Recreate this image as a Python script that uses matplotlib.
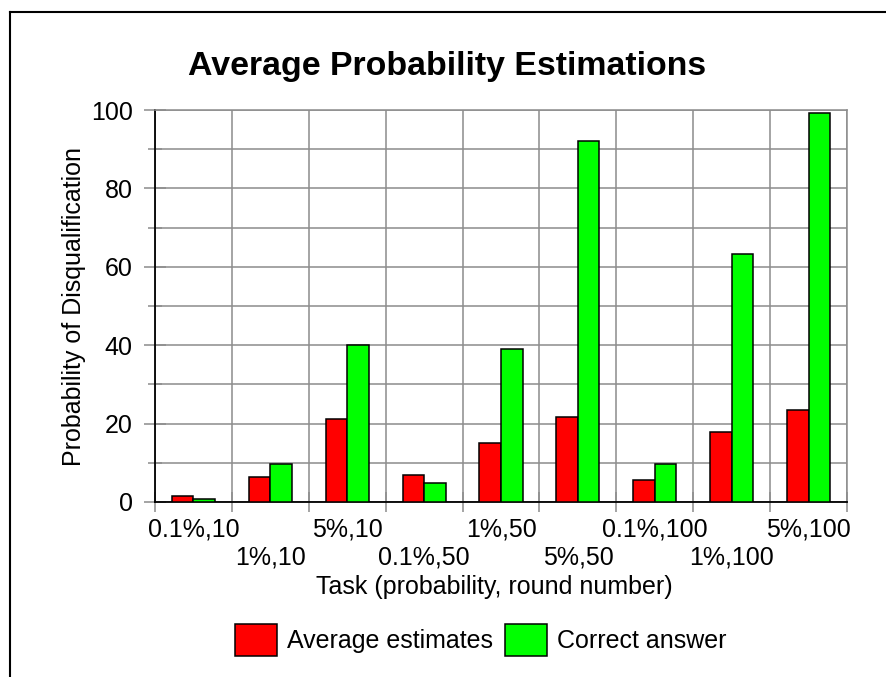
import matplotlib
matplotlib.use("Agg")
import matplotlib.pyplot as plt
import numpy as np
from matplotlib.lines import Line2D
from matplotlib.ticker import MultipleLocator, FixedLocator

plt.rcParams['font.family'] = ['Liberation Sans', 'DejaVu Sans']

tasks = ['0.1%,10', '1%,10', '5%,10', '0.1%,50', '1%,50', '5%,50',
         '0.1%,100', '1%,100', '5%,100']
average_estimates = [1.5, 6.5, 21.2, 6.8, 15.0, 21.6, 5.6, 17.9, 23.5]
correct_answer = [0.8, 9.8, 40.0, 4.9, 39.1, 92.2, 9.8, 63.2, 99.2]

fig = plt.figure(figsize=(8.87, 6.77), dpi=100)
ax = fig.add_axes([0.1747, 0.2585, 0.7803, 0.579])

x = np.arange(len(tasks))
w = 0.28
ax.bar(x - w / 2, average_estimates, w, color='#ff0000', edgecolor='black',
       linewidth=1.1, label='Average estimates', zorder=3)
ax.bar(x + w / 2, correct_answer, w, color='#00ff00', edgecolor='black',
       linewidth=1.1, label='Correct answer', zorder=3)

ax.set_xlim(-0.5, len(tasks) - 0.5)
ax.set_ylim(0, 100)

# y axis: labels every 20, grid every 10
ax.yaxis.set_major_locator(MultipleLocator(20))
ax.yaxis.set_minor_locator(MultipleLocator(10))
# x axis: labels at category centres (staggered), ticks/grid at boundaries
ax.set_xticks(x)
ax.set_xticklabels(tasks)
ax.xaxis.set_minor_locator(FixedLocator(np.arange(-0.5, len(tasks), 1.0)))

ax.grid(True, which='both', color='#8c8c8c', linewidth=1.1, zorder=0)
ax.grid(False, which='major', axis='x')
ax.set_axisbelow(True)

ax.tick_params(axis='x', which='major', length=0, labelsize=18, pad=11)
ax.tick_params(axis='x', which='minor', direction='inout', length=14, width=1.1,
               color='#8c8c8c')
ax.tick_params(axis='y', which='major', direction='inout', length=16, width=1.1,
               color='#8c8c8c', labelsize=18, pad=8)
ax.tick_params(axis='y', which='minor', direction='inout', length=10, width=1.1,
               color='#8c8c8c')
# second row of staggered labels
for tick in ax.xaxis.get_major_ticks()[1::2]:
    tick.set_pad(31)

for side in ['top', 'right']:
    ax.spines[side].set_color('#8c8c8c')
    ax.spines[side].set_linewidth(1.1)
for side in ['left', 'bottom']:
    ax.spines[side].set_color('black')
    ax.spines[side].set_linewidth(1.3)

ax.set_ylabel('Probability of Disqualification', fontsize=18)
ax.yaxis.set_label_coords(-0.1, 0.5)
ax.set_xlabel('Task (probability, round number)', fontsize=18)
ax.xaxis.set_label_coords(0.49, -0.185)

fig.suptitle('Average Probability Estimations', x=0.504, y=0.902, va='center',
             fontsize=24.4, fontweight='bold')

fig.legend(loc='center', bbox_to_anchor=(0.542, 0.0546), ncol=2, frameon=False,
           fontsize=18, handlelength=1.68, handleheight=1.64,
           handletextpad=0.4, columnspacing=0.45)

# outer frame (left and top edges are visible in the original)
fig.add_artist(Line2D([0.0113, 0.0113], [0.0, 0.9823], color='black',
                      linewidth=1.5, transform=fig.transFigure))
fig.add_artist(Line2D([0.0113, 1.0], [0.9823, 0.9823], color='black',
                      linewidth=1.5, transform=fig.transFigure))

fig.savefig('out.png', dpi=100)
